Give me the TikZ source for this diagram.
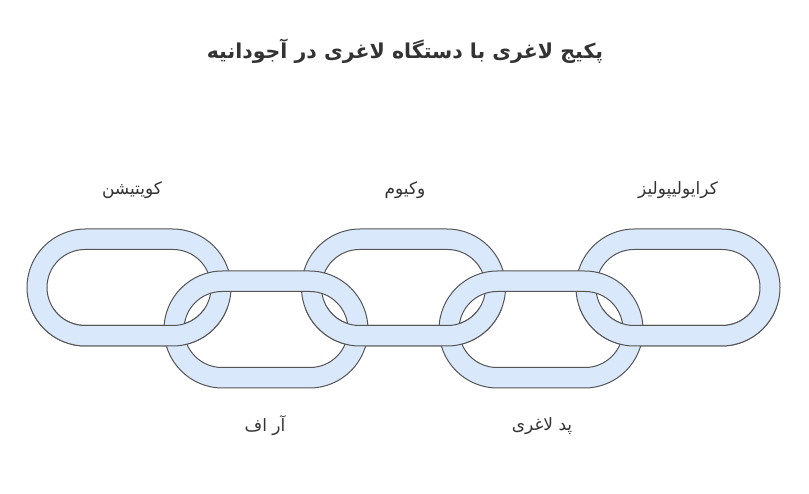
\documentclass[tikz,border=0pt]{standalone}
\usepackage{fontspec}
\TeXXeTstate=1
\newfontfamily\arabicfont[Script=Arabic]{DejaVu Sans}
\definecolor{linkfill}{HTML}{DAE8FC}
\definecolor{linkdraw}{HTML}{555555}
\definecolor{txtcol}{HTML}{333333}
\tikzset{
  ringstyle/.style={fill=linkfill, draw=linkdraw, line width=1pt, even odd rule},
  lbl/.style={text=txtcol, font=\arabicfont\fontsize{17}{20}\selectfont, inner sep=0pt},
  ttl/.style={text=txtcol, font=\arabicfont\bfseries\fontsize{20.5}{24}\selectfont, inner sep=0pt}
}
\newcommand\chainring[2]{%
  \begin{scope}[shift={(#1,#2)}]
    \path[ringstyle]
      [rounded corners=58.5pt] (-102,-58.5) rectangle (102,58.5)
      [rounded corners=38pt] (-82,-38) rectangle (82,38);
  \end{scope}}
\begin{document}
\begin{tikzpicture}[x=1pt,y=-1pt]
\useasboundingbox (0,0) rectangle (809,494);
\fill[white] (0,0) rectangle (809,494);
% upper links
\chainring{129}{287.5}
\chainring{403.5}{287.5}
\chainring{678}{287.5}
% lower links
\chainring{266}{329.5}
\chainring{541}{329.5}
% upper links again, lower halves on top
\begin{scope}
  \clip (0,309) rectangle (809,494);
  \chainring{129}{287.5}
  \chainring{403.5}{287.5}
  \chainring{678}{287.5}
\end{scope}
\node[ttl] (title) at (405,51) {\beginR پکیج لاغری با دستگاه لاغری در آجودانیه\endR};
\node[lbl] (l1) at (132,190) {\beginR کویتیشن\endR};
\node[lbl] (l2) at (405,190) {\beginR وکیوم\endR};
\node[lbl] (l3) at (678,190) {\beginR کرایولیپولیز\endR};
\node[lbl] (l4) at (265,426) {\beginR آر اف\endR};
\node[lbl] (l5) at (542,426) {\beginR پد لاغری\endR};
\end{tikzpicture}
\end{document}
